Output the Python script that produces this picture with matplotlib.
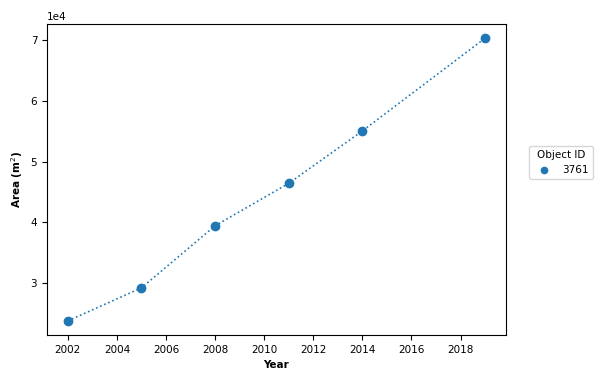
import matplotlib
matplotlib.use("Agg")
import matplotlib.pyplot as plt

years = [2002, 2005, 2008, 2011, 2014, 2019]
area = [23720, 29170, 39420, 46420, 55070, 70380]
object_id = "3761"

fs = 7.5
fig = plt.figure(figsize=(6.07, 3.81), dpi=100)
ax = fig.add_axes([0.0774, 0.1207, 0.7562, 0.8163])
ax.plot(years, area, linestyle=":", color="#1f77b4", linewidth=1.2)
ax.scatter(years, area, color="#1f77b4", s=36, label=object_id, zorder=3)
ax.set_xticks(list(range(2002, 2019, 2)))
ax.ticklabel_format(axis="y", style="sci", scilimits=(0, 0))
ax.set_xlabel("Year", fontweight="bold", fontsize=fs)
ax.set_ylabel("Area (m$^2$)", fontweight="bold", fontsize=fs)
ax.tick_params(labelsize=fs)
ax.yaxis.get_offset_text().set_fontsize(fs)
leg = ax.legend(title="Object ID", loc="center left", bbox_to_anchor=(1.05, 0.555),
                borderaxespad=0, fontsize=fs, title_fontsize=fs, markerscale=0.75)
fig.savefig("out.png", dpi=100)
